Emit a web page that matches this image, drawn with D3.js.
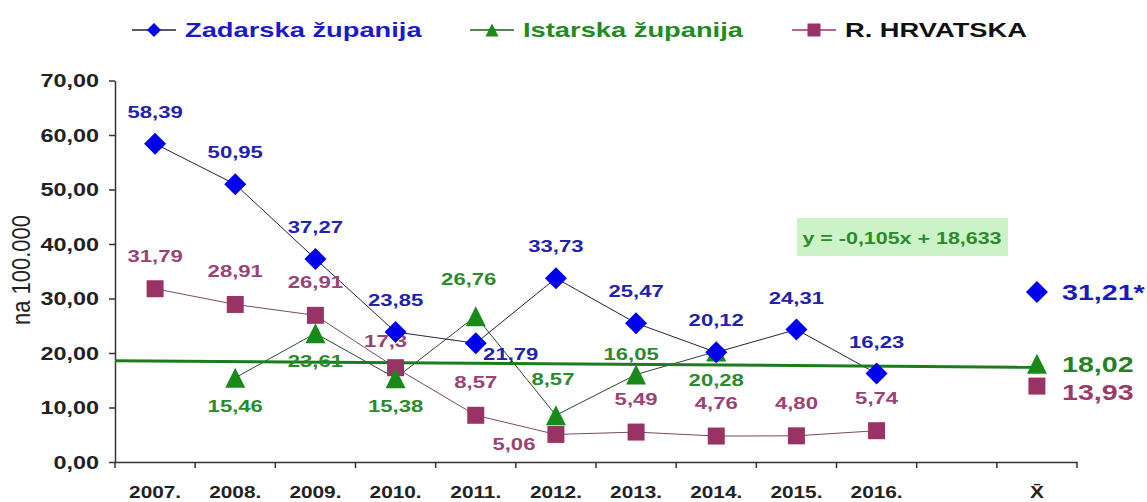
<!DOCTYPE html>
<html>
<head>
<meta charset="utf-8">
<script src="https://cdn.jsdelivr.net/npm/d3@7"></script>
<style>
  body { margin: 0; background: #fff; }
  svg text { font-family: "Liberation Sans", Arial, sans-serif; font-weight: bold; }
</style>
</head>
<body>
<div class="chart"></div>
<script>
//Data
var years = ["2007.", "2008.", "2009.", "2010.", "2011.", "2012.", "2013.", "2014.", "2015.", "2016."];
var categories = years.concat(["", "X\u0304"]);
var zadarska = [58.39, 50.95, 37.27, 23.85, 21.79, 33.73, 25.47, 20.12, 24.31, 16.23];
var istarska = [null, 15.46, 23.61, 15.38, 26.76, 8.57, 16.05, 20.28, null, null];
var hrvatska = [31.79, 28.91, 26.91, 17.3, 8.57, 5.06, 5.49, 4.76, 4.80, 5.74];
var hrvatskaLabels = ["31,79", "28,91", "26,91", "17,3", "8,57", "5,06", "5,49", "4,76", "4,80", "5,74"];
var seriesNames = ["Zadarska županija", "Istarska županija", "R. HRVATSKA"];
var means = [31.21, 18.02, 13.93];
var meanLabels = ["31,21*", "18,02", "13,93"];
var yTicks = [0, 10, 20, 30, 40, 50, 60, 70];
var trendSlope = -0.105, trendIntercept = 18.633;
var trendLabel = "y = -0,105x + 18,633";

var width = 1147, height = 502;
var SX = 1.3; // text in the original is stretched sideways

var svg = d3.select(".chart").append("svg")
    .attr("width", width).attr("height", height);

var x = d3.scaleBand().domain(categories).range([115, 1077]).padding(0);
var y = d3.scaleLinear().domain([0, 70]).range([462, 80.5]);
var cx = function(i){ return x(categories[i]) + x.bandwidth() / 2; };

//colors
var blue = "#0000ee", blueTxt = "#2222b0";
var green = "#178a17", greenTxt = "#2b8a2b";
var plum = "#993366", plumTxt = "#9a4272";

//marker paths
function diamond(r){ return "M0," + (-r) + "L" + r + ",0L0," + r + "L" + (-r) + ",0Z"; }
function triangle(r){ return "M0," + (-r) + "L" + r + "," + r + "L" + (-r) + "," + r + "Z"; }
function square(r){ return "M" + (-r) + "," + (-r) + "H" + r + "V" + r + "H" + (-r) + "Z"; }

//text helper, stretched sideways around anchor point
function label(g, px, py, str, size, color, anchor){
    return g.append("text")
        .attr("transform", "translate(" + px + "," + py + ") scale(" + SX + ",1)")
        .attr("text-anchor", anchor || "middle")
        .style("font-size", size + "px")
        .attr("fill", color)
        .text(str);
}

//Y axis
var yAxis = svg.append("g").attr("transform", "translate(115,0)")
    .call(d3.axisLeft(y).tickValues(yTicks).tickSize(6).tickSizeOuter(0)
        .tickFormat(function(d){ return d.toFixed(2).replace(".", ","); }));
yAxis.select(".domain").attr("stroke", "#333").attr("stroke-width", 1.5);
yAxis.selectAll(".tick line").attr("stroke", "#333").attr("stroke-width", 1.5);
yAxis.selectAll(".tick text")
    .attr("x", 0).attr("dy", "0.36em")
    .attr("transform", "translate(-16,0) scale(" + SX + ",1)")
    .style("font-size", "18px").attr("fill", "#222");

//X axis
var xAxis = svg.append("g").attr("transform", "translate(0,462)")
    .call(d3.axisBottom(x).tickSize(0).tickSizeOuter(0));
xAxis.select(".domain").attr("stroke", "#333").attr("stroke-width", 1.5);
xAxis.selectAll(".tick text")
    .attr("y", 0).attr("dy", 0)
    .attr("transform", "translate(0,36) scale(" + SX + ",1)")
    .style("font-size", "16px").attr("fill", "#222");
//ticks on category boundaries
var bounds = categories.map(function(c){ return x(c); }).concat([x.range()[1]]);
xAxis.selectAll(".bound").data(bounds).enter().append("line")
    .attr("x1", function(d){ return d; }).attr("x2", function(d){ return d; })
    .attr("y1", 0).attr("y2", 6)
    .attr("stroke", "#333").attr("stroke-width", 1.5);

//Y title
svg.append("text")
    .attr("transform", "translate(30,270) rotate(-90) scale(1,1.15)")
    .attr("text-anchor", "middle")
    .style("font-size", "22px").style("font-weight", "normal")
    .attr("fill", "#222")
    .text("na 100.000");

//connecting lines
var line = d3.line()
    .defined(function(d){ return d != null; })
    .x(function(d, i){ return cx(i); })
    .y(function(d){ return y(d); });

svg.append("path").datum(hrvatska).attr("d", line)
    .attr("fill", "none").attr("stroke", "#7a4a64").attr("stroke-width", 1);
svg.append("path").datum(istarska).attr("d", line)
    .attr("fill", "none").attr("stroke", "#2a4a2a").attr("stroke-width", 1);
svg.append("path").datum(zadarska).attr("d", line)
    .attr("fill", "none").attr("stroke", "#222240").attr("stroke-width", 1);

//trend line of Istarska, x = 0.5 .. 12 (starts at the axis)
var bw = x.bandwidth();
var trendPts = [0.5, categories.length].map(function(k){
    return [x.range()[0] + (k - 0.5) * bw, y(trendSlope * k + trendIntercept)];
});
svg.append("path").attr("d", d3.line()(trendPts))
    .attr("stroke", "#1c7c1c").attr("stroke-width", 3).attr("fill", "none");

//equation box
var eq = svg.append("g");
eq.append("rect").attr("x", 797).attr("y", 218).attr("width", 211).attr("height", 38)
    .attr("fill", "#ccf3c8");
label(eq, 902, 244, trendLabel, 16.5, greenTxt);

//markers + labels
var marks = svg.append("g");
var labels = svg.append("g");
var meanIdx = categories.length - 1;

//Hrvatska
var hOff = hrvatska.map(function(){ return [0, -27]; });
hOff[3] = [-10, -21]; hOff[5] = [-42, 16];
hrvatska.forEach(function(d, i){
    marks.append("path").attr("d", square(8.5))
        .attr("transform", "translate(" + cx(i) + "," + y(d) + ")").attr("fill", plum);
    label(labels, cx(i) + hOff[i][0], y(d) + hOff[i][1], hrvatskaLabels[i], 17, plumTxt);
});

//Istarska
var iOff = istarska.map(function(){ return [0, 34]; });
iOff[4] = [-7, -31]; iOff[5] = [-3, -30]; iOff[6] = [-5, -15]; iOff[7] = [0, 35];
istarska.forEach(function(d, i){
    if (d == null) return;
    marks.append("path").attr("d", triangle(10))
        .attr("transform", "translate(" + cx(i) + "," + y(d) + ")").attr("fill", green);
    label(labels, cx(i) + iOff[i][0], y(d) + iOff[i][1], d.toFixed(2).replace(".", ","), 17, greenTxt);
});

//Zadarska on top
var zOff = zadarska.map(function(){ return [0, -26]; });
zOff[4] = [35, 17];
var zmarks = svg.append("g");
zadarska.forEach(function(d, i){
    zmarks.append("path").attr("d", diamond(11))
        .attr("transform", "translate(" + cx(i) + "," + y(d) + ")").attr("fill", blue);
    label(labels, cx(i) + zOff[i][0], y(d) + zOff[i][1], d.toFixed(2).replace(".", ","), 17, blueTxt);
});

//means at X
var meanShapes = [diamond(11), triangle(10), square(8.5)];
var meanFill = [blue, green, plum];
var meanTxt = ["#1a1ac0", "#238023", "#9a3a6a"];
var meanDy = [8, 8, 14];
means.forEach(function(d, i){
    svg.append("path").attr("d", meanShapes[i])
        .attr("transform", "translate(" + cx(meanIdx) + "," + y(d) + ")").attr("fill", meanFill[i]);
    label(svg, 1062, y(d) + meanDy[i], meanLabels[i], 22, meanTxt[i], "start");
});

//Legend
var legX = [132, 470, 792];
var legColors = ["#1a1acc", "#228b22", "#111"];
var legLine = ["#222240", "#1c5c1c", plum];
var legShapes = [diamond(7), triangle(6.5), square(6.5)];
var legend = svg.append("g");
seriesNames.forEach(function(name, i){
    legend.append("line").attr("x1", legX[i]).attr("x2", legX[i] + 44)
        .attr("y1", 30).attr("y2", 30).attr("stroke", legLine[i]).attr("stroke-width", 1.5);
    legend.append("path").attr("d", legShapes[i])
        .attr("transform", "translate(" + (legX[i] + 22) + ",30)").attr("fill", meanFill[i]);
    label(legend, legX[i] + 53, 37, name, 21, legColors[i], "start");
});
</script>
</body>
</html>
